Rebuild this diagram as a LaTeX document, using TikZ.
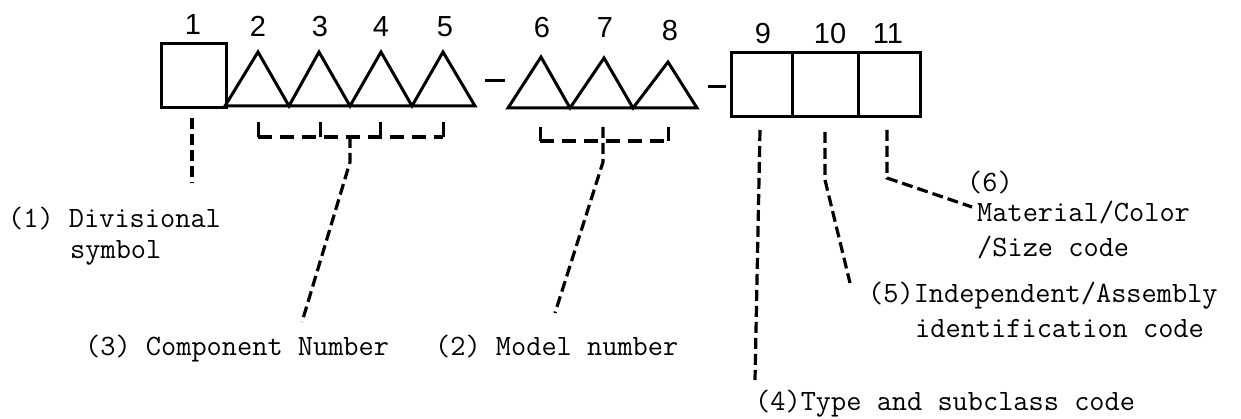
\documentclass[tikz,border=0pt]{standalone}
\usepackage{fontspec}
\newfontfamily\digitfont{Liberation Sans}
\begin{document}
\begin{tikzpicture}[x=1pt,y=-1pt,
  outline/.style={line width=3pt, line join=miter},
  cell/.style={draw, line width=3pt, inner sep=0, anchor=north west},
  lead/.style={line width=3.2pt, dash pattern=on 11pt off 5pt},
  brack/.style={line width=3.2pt, dash pattern=on 14pt off 8pt},
  hyph/.style={line width=3pt},
  num/.style={font=\digitfont\fontsize{29}{32}\selectfont, anchor=base, inner sep=0},
  lbl/.style={font=\ttfamily\fontsize{29.5}{34}\selectfont, anchor=base west, inner sep=0}]
\useasboundingbox (0,0) rectangle (1241,419);

% --- digit labels
\node[num] (n1) at (193,35) {1};
\node[num] (n2) at (258,37) {2};
\node[num] (n3) at (320,37) {3};
\node[num] (n4) at (381,37) {4};
\node[num] (n5) at (445,37) {5};
\node[num] (n6) at (542,38) {6};
\node[num] (n7) at (605,38) {7};
\node[num] (n8) at (670,41) {8};
\node[num] (n9) at (763,44) {9};
\node[num] (n10) at (830,44) {10};
\node[num] (n11) at (888,44) {11};

% --- box 1
\node[cell, minimum width=65pt, minimum height=64pt] (b1) at (160,42) {};
% --- triangles 2-5
\draw[outline] (225,106) -- (258,52) -- (289,106) -- (319,52) -- (350,106)
  -- (381,52) -- (412,106) -- (443,52) -- (475,106) -- cycle;
% --- hyphen
\coordinate (h1a) at (485,81); \coordinate (h1b) at (505,81);
\draw[hyph] (h1a) -- (h1b);
% --- triangles 6-8
\draw[outline] (508,108) -- (541,57) -- (570,108) -- (604,58) -- (633,108)
  -- (668,62) -- (697,108) -- cycle;
% --- hyphen
\coordinate (h2a) at (708,87); \coordinate (h2b) at (726,87);
\draw[hyph] (h2a) -- (h2b);
% --- boxes 9-11
\node[cell, minimum width=61pt, minimum height=64pt] (b9) at (730,51) {};
\node[cell, minimum width=66pt, minimum height=64pt] (b10) at (791,51) {};
\node[cell, minimum width=62pt, minimum height=64pt] (b11) at (857,51) {};

% --- labels
\node[lbl] (t1) at (8,228) {(1) Divisional};
\node[lbl] (t1b) at (70,259) {symbol};
\node[lbl] (t3) at (85,355) {(3) Component Number};
\node[lbl] (t2) at (435,355) {(2) Model number};
\node[lbl] (t4) at (755,410) {(4)Type and subclass code};
\node[lbl] (t5) at (868,302) {(5)Independent/Assembly};
\node[lbl] (t5b) at (915,337) {identification code};
\node[lbl] (t6) at (967,192) {(6)};
\node[lbl] (t6b) at (977,222) {Material/Color};
\node[lbl] (t6c) at (977,257) {/Size code};

% --- leader coordinates
\coordinate (l1a) at (192,118); \coordinate (l1b) at (192,183);
\coordinate (c1) at (258,122); \coordinate (c2) at (258,137);
\coordinate (c3) at (443,137); \coordinate (c4) at (443,122);
\coordinate (c5) at (320,122); \coordinate (c6) at (320,137);
\coordinate (c7) at (380,122); \coordinate (c8) at (380,137);
\coordinate (cs1) at (350,137); \coordinate (cs2) at (350,162); \coordinate (cs3) at (302,322);
\coordinate (m1) at (540,127); \coordinate (m2) at (540,141);
\coordinate (m3) at (668,141); \coordinate (m4) at (668,127);
\coordinate (ms1) at (603,127); \coordinate (ms2) at (603,162); \coordinate (ms3) at (555,313);
\coordinate (p4a) at (760,130); \coordinate (p4b) at (755,380);
\coordinate (p5a) at (825,132); \coordinate (p5b) at (825,180); \coordinate (p5c) at (850,283);
\coordinate (p6a) at (887,130); \coordinate (p6b) at (887,178); \coordinate (p6c) at (972,207);

% --- brackets: solid end ticks, dashed spans
\draw[hyph] (c1) -- (c2);
\draw[hyph] (c4) -- (c3);
\draw[hyph] (c5) -- (c6);
\draw[hyph] (c7) -- (c8);
\draw[brack] (c2) -- (c3);
\draw[hyph] (m1) -- (m2);
\draw[hyph] (m4) -- (m3);
\draw[brack] (m2) -- (m3);
% --- leaders
\draw[lead] (l1a) -- (l1b);
\draw[lead] (cs1) -- (cs2) -- (cs3);
\draw[lead] (ms1) -- (ms2) -- (ms3);
\draw[lead] (p4a) -- (p4b);
\draw[lead] (p5a) -- (p5b) -- (p5c);
\draw[lead] (p6a) -- (p6b) -- (p6c);
\end{tikzpicture}
\end{document}
